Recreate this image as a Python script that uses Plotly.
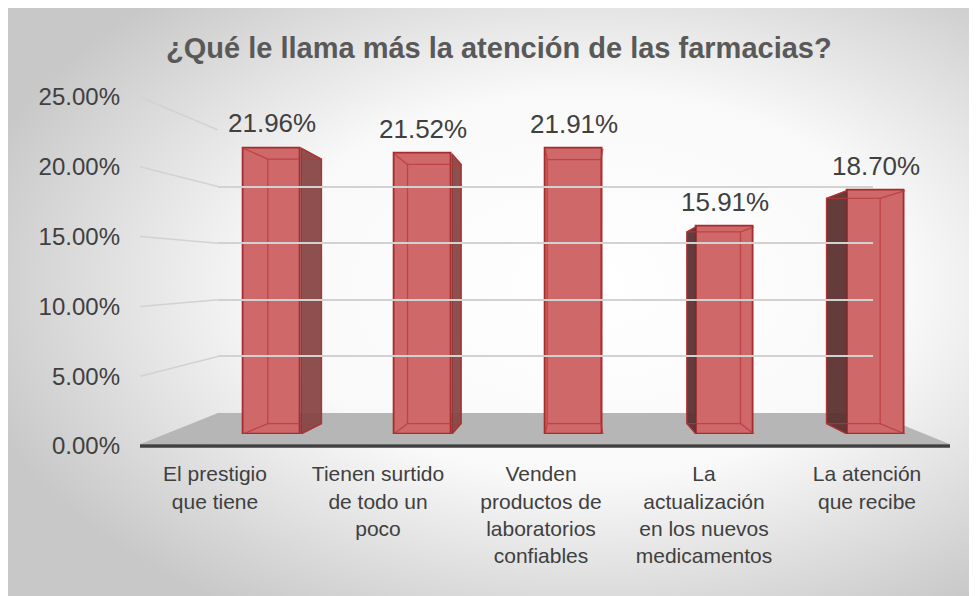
import base64
import plotly.graph_objects as go

# ---------------- data ----------------
categories = [
    "El prestigio<br>que tiene",
    "Tienen surtido<br>de todo un<br>poco",
    "Venden<br>productos de<br>laboratorios<br>confiables",
    "La<br>actualización<br>en los nuevos<br>medicamentos",
    "La atención<br>que recibe",
]
values = [21.96, 21.52, 21.91, 15.91, 18.70]
y_ticks = [0, 5, 10, 15, 20, 25]
y_tick_text = ["0.00%", "5.00%", "10.00%", "15.00%", "20.00%", "25.00%"]
title_text = "¿Qué le llama más la atención de las farmacias?"

# ---------------- geometry helpers ----------------
W, H = 969, 588      # figure size (page has an 8px body margin)
OFF = 8              # screen offset of the figure


def fx(px):
    return (px - OFF) / W


def fy(px):
    return 1 - (px - OFF) / H


# axis domains (pixel-based layout of the pseudo-3D chart)
label_y_dom = [fy(446), fy(97)]      # front scale with tick labels
bar_y_dom = [fy(434), fy(108.5)]     # front face of bars
grid_y_dom = [fy(413), fy(130)]      # back wall
bar_x_dom = [fx(196.5), fx(951.5)]
label_x_dom = [fx(133.5), fx(948.5)]
grid_x_dom = [fx(218), fx(873)]
Y_RANGE = [0, 25]


def axis_to_paper(v, dom):
    return dom[0] + (v - Y_RANGE[0]) / (Y_RANGE[1] - Y_RANGE[0]) * (dom[1] - dom[0])


# perspective for bar boxes (in bar data units)
VX, VY, S = 2.0, 10.68, 0.925
HALF_W = 0.192


def proj(x, y):
    return VX + (x - VX) * S, VY + (y - VY) * S


idx = list(range(len(categories)))

fig = go.Figure()

# side faces
for i, v in zip(idx, values):
    xl, xr = i - HALF_W, i + HALF_W
    if abs(i - VX) < 1e-9:
        continue
    if i < VX:
        xe, col = xr, "rgba(136,70,70,0.95)"
    else:
        xe, col = xl, "rgba(92,50,50,0.95)"
    b0 = proj(xe, 0)
    b1 = proj(xe, v)
    fig.add_trace(go.Scatter(
        x=[xe, xe, b1[0], b0[0], xe], y=[0, v, b1[1], b0[1], 0],
        xaxis="x", yaxis="y2", mode="lines", fill="toself",
        fillcolor=col, line=dict(color="rgba(140,40,40,0.9)", width=1.2),
        hoverinfo="skip", showlegend=False))

# front faces (real bars)
fig.add_trace(go.Bar(
    x=idx, y=values, xaxis="x", yaxis="y2", width=2 * HALF_W,
    marker=dict(color="rgb(207,104,104)",
                line=dict(color="rgb(165,45,45)", width=1.8)),
    hoverinfo="skip", showlegend=False))

# inner (back) edges seen through the front face
ex, ey = [], []
for i, v in zip(idx, values):
    xl, xr = i - HALF_W, i + HALF_W
    corners = [(xl, 0), (xr, 0), (xr, v), (xl, v)]
    back = [proj(cx, cy) for cx, cy in corners]
    for p in back + [back[0]]:
        ex.append(p[0]); ey.append(p[1])
    ex.append(None); ey.append(None)
    for (cx, cy), (bx, by) in zip(corners, back):
        ex += [cx, bx, None]; ey += [cy, by, None]
fig.add_trace(go.Scatter(
    x=ex, y=ey, xaxis="x", yaxis="y2", mode="lines",
    line=dict(color="rgba(185,55,55,0.75)", width=1.3),
    hoverinfo="skip", showlegend=False))

# invisible traces to create the label and back-wall subplots
fig.add_trace(go.Scatter(x=categories, y=values, xaxis="x2", yaxis="y",
                         mode="none", hoverinfo="skip", showlegend=False))
fig.add_trace(go.Scatter(x=categories, y=values, xaxis="x3", yaxis="y3",
                         mode="none", hoverinfo="skip", showlegend=False))

# data labels
for i, v in zip(idx, values):
    fig.add_annotation(x=i, y=v, xref="x", yref="y2", yshift=25,
                       xanchor="center", yanchor="middle",
                       text=f"{v:.2f}%", showarrow=False,
                       font=dict(family="Liberation Sans, Arial", size=26, color="#404040"))

# title
fig.add_annotation(x=fx(499), y=fy(48), xref="paper", yref="paper",
                   xanchor="center", yanchor="middle",
                   text=f"<b>{title_text}</b>", showarrow=False,
                   font=dict(family="Liberation Sans, Arial", size=29, color="#595959"))

# floor and left wall lines
shapes = []
shapes.append(dict(
    type="path", xref="paper", yref="paper", layer="below",
    path=(f"M {fx(218)},{axis_to_paper(0, grid_y_dom)} "
          f"L {fx(873)},{axis_to_paper(0, grid_y_dom)} "
          f"L {fx(950)},{axis_to_paper(0, label_y_dom) + 0.003} "
          f"L {fx(140)},{axis_to_paper(0, label_y_dom) + 0.003} Z"),
    fillcolor="#b6b6b6", line=dict(width=0)))
for t in y_ticks[1:]:
    shapes.append(dict(
        type="line", xref="paper", yref="paper", layer="below",
        x0=fx(140), y0=axis_to_paper(t, label_y_dom),
        x1=fx(218), y1=axis_to_paper(t, grid_y_dom),
        line=dict(color="#d2d2d2", width=1.5)))
shapes.append(dict(
    type="line", xref="paper", yref="paper", layer="above",
    x0=fx(140), x1=fx(950),
    y0=axis_to_paper(0, label_y_dom), y1=axis_to_paper(0, label_y_dom),
    line=dict(color="#404040", width=3.5)))

# radial gradient background
svg = f'''<svg xmlns="http://www.w3.org/2000/svg" width="{W}" height="{H}" viewBox="0 0 {W} {H}">
<defs><radialGradient id="g" cx="0.6" cy="0.47" r="0.66">
<stop offset="0" stop-color="#ffffff"/>
<stop offset="0.5" stop-color="#f9f9f9"/>
<stop offset="1" stop-color="#c8c8c8"/>
</radialGradient></defs>
<rect x="0" y="0" width="{W}" height="{H}" fill="url(#g)"/>
</svg>'''
src = "data:image/svg+xml;base64," + base64.b64encode(svg.encode("utf-8")).decode("ascii")

fig.update_layout(
    width=W, height=H,
    margin=dict(l=0, r=0, t=0, b=0),
    paper_bgcolor="#d0d0d0", plot_bgcolor="rgba(0,0,0,0)",
    showlegend=False, bargap=0,
    shapes=shapes,
    images=[dict(source=src, xref="paper", yref="paper", x=0, y=1,
                 sizex=1, sizey=1, xanchor="left", yanchor="top",
                 sizing="stretch", layer="below")],
    xaxis=dict(domain=bar_x_dom, anchor="y2", range=[-0.5, 4.5], visible=False,
               automargin=False, fixedrange=True),
    yaxis2=dict(domain=bar_y_dom, anchor="x", range=Y_RANGE, visible=False,
                automargin=False, fixedrange=True),
    xaxis2=dict(domain=label_x_dom, anchor="y", type="category",
                range=[-0.5, 4.5], showgrid=False, zeroline=False, showline=False,
                ticks="outside", ticklen=9, tickcolor="rgba(0,0,0,0)",
                tickfont=dict(family="Liberation Sans, Arial", size=21, color="#404040"),
                automargin=False, fixedrange=True),
    yaxis=dict(domain=label_y_dom, anchor="free", position=fx(120),
               range=Y_RANGE, tickvals=y_ticks, ticktext=y_tick_text,
               showgrid=False, zeroline=False, showline=False, ticks="",
               tickfont=dict(family="Liberation Sans, Arial", size=24, color="#404040"),
               automargin=False, fixedrange=True),
    xaxis3=dict(domain=grid_x_dom, anchor="y3", range=[0, 1], visible=True,
                showgrid=False, zeroline=False, showline=False, showticklabels=False,
                ticks="", automargin=False, fixedrange=True),
    yaxis3=dict(domain=grid_y_dom, anchor="x3", range=Y_RANGE, tickvals=y_ticks,
                showgrid=True, gridcolor="#d2d2d2", gridwidth=1.5, zeroline=False,
                showline=False, showticklabels=False, ticks="",
                automargin=False, fixedrange=True),
)

fig.write_html("out.html", config={"displayModeBar": False})
